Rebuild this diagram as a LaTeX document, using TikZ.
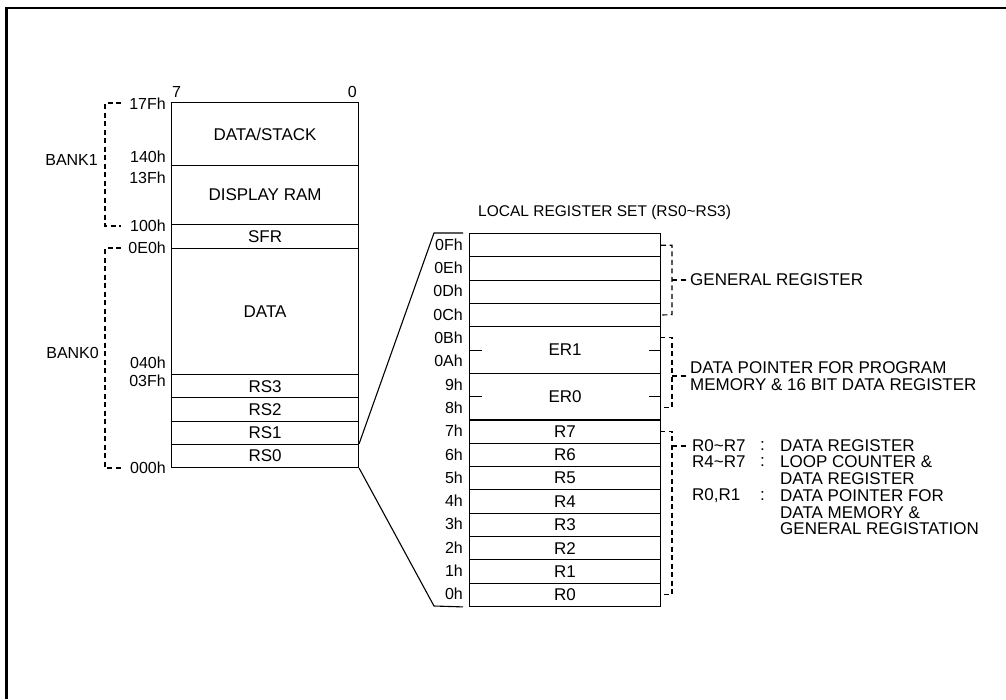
\documentclass[tikz,border=0pt]{standalone}
\usepackage{fontspec}
\setmainfont{Liberation Sans}
\usepackage{tikz}

\begin{document}
\begin{tikzpicture}[x=1pt, y=-1pt,
  cell/.style={draw, line width=1.1pt, minimum width=187pt,
    inner sep=0pt, anchor=north west, font=\fontsize{17}{16.5}\selectfont},
  reg/.style={draw, line width=1.1pt, minimum width=191pt,
    minimum height=23.3pt, inner sep=0pt, anchor=north west,
    font=\fontsize{17}{16.5}\selectfont},
  addr/.style={anchor=east, inner sep=0pt},
  note/.style={anchor=west, inner sep=0pt, align=left,
    font=\fontsize{17}{16.5}\selectfont},
  link/.style={line width=1.1pt},
  tick/.style={line width=1.1pt},
  brace/.style={line width=1.1pt, dash pattern=on 5pt off 3.5pt},
  frame/.style={line width=2.4pt},
  every node/.style={font=\fontsize{16}{16.5}\selectfont}
 ]
\useasboundingbox (0,0) rectangle (1006,699);
\draw[frame] (1006,8) -- (6.5,8) -- (6.5,699);

\node[cell, minimum height=63pt] (stack) at (171,102) {DATA/STACK};
\node[cell, minimum height=59pt] (dram) at (171,165) {DISPLAY RAM};
\node[cell, minimum height=24pt] (sfr) at (171,224) {SFR};
\node[cell, minimum height=126pt] (data) at (171,248) {DATA};
\node[cell, minimum height=23.25pt] (rs3) at (171,374) {RS3};
\node[cell, minimum height=23.25pt] (rs2) at (171,397.25) {RS2};
\node[cell, minimum height=23.25pt] (rs1) at (171,420.5) {RS1};
\node[cell, minimum height=23.25pt] (rs0) at (171,443.75) {RS0};

\node[anchor=base west, inner sep=0pt] (b7) at (172,97) {7};
\node[anchor=base east, inner sep=0pt] (b0) at (357,97) {0};

\node[addr] (a17f) at (166,104) {17Fh};
\node[addr] (a140) at (166,157) {140h};
\node[addr] (a13f) at (166,178) {13Fh};
\node[addr] (a100) at (166,226) {100h};
\node[addr] (a0e0) at (166,248) {0E0h};
\node[addr] (a040) at (166,363) {040h};
\node[addr] (a03f) at (166,381) {03Fh};
\node[addr] (a000) at (166,468) {000h};

\node[addr] (bank1) at (98,160) {BANK1};
\node[addr] (bank0) at (99,353) {BANK0};
\draw[brace] (121,103) -| (105,226) -- (121,226);
\draw[brace] (121,248) -| (105,468) -- (121,468);

\node[anchor=west, inner sep=0pt, font=\fontsize{15.5}{16}\selectfont]
  (title) at (478,212) {LOCAL REGISTER SET (RS0\textasciitilde RS3)};

\node[reg] (r15) at (469,233) {};
\node[reg] (r14) at (469,256.3) {};
\node[reg] (r13) at (469,279.6) {};
\node[reg] (r12) at (469,302.9) {};
\node[reg, minimum height=46.6pt] (er1) at (469,326.2) {ER1};
\node[reg, minimum height=46.6pt] (er0) at (469,372.8) {ER0};
\node[reg] (r7) at (469,419.4) {R7};
\node[reg] (r6) at (469,442.7) {R6};
\node[reg] (r5) at (469,466) {R5};
\node[reg] (r4) at (469,489.3) {R4};
\node[reg] (r3) at (469,512.6) {R3};
\node[reg] (r2) at (469,535.9) {R2};
\node[reg] (r1) at (469,559.2) {R1};
\node[reg] (r0) at (469,582.5) {R0};

\node[addr] (l15) at (463,244.65) {0Fh};
\node[addr] (l14) at (463,267.95) {0Eh};
\node[addr] (l13) at (463,291.25) {0Dh};
\node[addr] (l12) at (463,314.55) {0Ch};
\node[addr] (l11) at (463,337.85) {0Bh};
\node[addr] (l10) at (463,361.15) {0Ah};
\node[addr] (l9) at (463,384.45) {9h};
\node[addr] (l8) at (463,407.75) {8h};
\node[addr] (l7) at (463,431.05) {7h};
\node[addr] (l6) at (463,454.35) {6h};
\node[addr] (l5) at (463,477.65) {5h};
\node[addr] (l4) at (463,500.95) {4h};
\node[addr] (l3) at (463,524.25) {3h};
\node[addr] (l2) at (463,547.55) {2h};
\node[addr] (l1) at (463,570.85) {1h};
\node[addr] (l0) at (463,594.15) {0h};

\draw[tick] (er1.west) -- ++(13,0);
\draw[tick] (er1.east) -- ++(-12,0);
\draw[tick] (er0.west) -- ++(13,0);
\draw[tick] (er0.east) -- ++(-12,0);

\coordinate (zt) at (434,233);
\coordinate (zb) at (434,606);
\draw[link] (rs0.north east) -- (zt) -- ([xshift=-6pt]r15.north west);
\draw[link] (rs0.south east) -- (zb) -- ([xshift=-6pt]r0.south west);

\node[note] (gen) at (690,280) {GENERAL REGISTER};
\draw[brace] (r15.east) -| (672,314.55) -- (r12.east);
\draw[brace, shorten >=4pt] (672,280) -- (gen.west);

\node[note] (dp) at (690,376)
  {DATA POINTER FOR PROGRAM\\MEMORY \& 16 BIT DATA REGISTER};
\draw[brace] (660,337.85) -| (672,407.75) -- (660,407.75);
\draw[brace, shorten >=4pt] (672,376) -- (dp.west);

\node[note] (n07) at (692,446) {R0\textasciitilde R7};
\node[note] (c07) at (760,446) {:};
\node[note] (d07) at (780,446) {DATA REGISTER};
\node[note] (n47) at (692,462) {R4\textasciitilde R7};
\node[note] (c47) at (760,462) {:};
\node[note, anchor=north west] (d47) at (780,455.9)
  {LOOP COUNTER \&\\DATA REGISTER};
\node[note] (n01) at (692,496) {R0,R1};
\node[note] (c01) at (760,496) {:};
\node[note, anchor=north west] (d01) at (780,489.9)
  {DATA POINTER FOR\\DATA MEMORY \&\\GENERAL REGISTATION};
\draw[brace] (660,431.05) -| (672,594.15) -- (660,594.15);
\draw[brace, shorten >=4pt] (672,446) -- (n07.west);
\end{tikzpicture}
\end{document}
